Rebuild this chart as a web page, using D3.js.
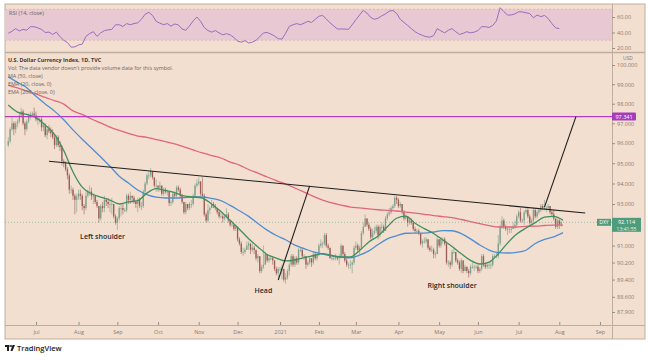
<!DOCTYPE html>
<html><head><meta charset="utf-8">
<script src="https://cdn.jsdelivr.net/npm/d3@7"></script>
<style>
body{margin:0;background:#fff}
svg{display:block}
text{font-family:"Open Sans","DejaVu Sans",sans-serif}
</style>
</head><body>
<svg id="c" width="648" height="360"></svg>
<script>
// ---------------- DATA ----------------
const firstBar = "2020-06-10";          // first daily bar (weekdays only)
const firstOpen = 95.9;
const closes = [
96.1,96.7,97.0,96.7,97.0,97.1,97.4,97.6,97.0,96.7,97.1,97.4,97.4,97.5,97.4,
97.2,97.2,97.2,96.8,96.9,96.4,96.7,96.6,96.5,96.3,95.9,96.3,95.9,95.8,95.1,95.0,94.7,94.4,93.7,93.7,93.4,93.2,93.35,
93.5,93.4,92.9,92.8,93.4,93.6,93.6,93.4,93.4,93.1,92.9,92.3,92.9,92.8,93.2,93.1,93.0,93.0,93.0,92.4,92.1,
92.3,92.8,92.8,92.7,92.7,93.4,93.2,93.4,93.3,93.1,93.0,93.2,92.9,92.9,93.6,94.0,94.4,94.4,94.6,94.3,93.9,93.9,
93.8,93.9,93.5,93.7,93.6,93.6,93.05,93.1,93.5,93.4,93.8,93.7,93.4,93.1,92.6,93.0,92.8,93.0,93.0,93.4,93.9,94.0,
94.1,93.5,93.4,92.5,92.2,92.7,92.8,93.0,92.9,92.8,92.6,92.4,92.4,92.3,92.4,92.5,92.2,92.0,92.0,91.8,91.9,
91.3,91.1,90.7,90.7,90.8,91.0,91.1,90.8,90.9,90.8,90.4,90.5,89.8,90.0,90.1,90.6,90.3,90.4,90.4,90.3,89.9,89.7,89.9,
89.9,89.9,89.4,89.5,89.8,90.1,90.5,90.1,90.4,90.2,90.8,90.8,90.5,90.5,90.1,90.2,90.4,90.2,90.6,90.4,90.6,
91.0,91.1,91.1,91.5,91.0,90.9,90.4,90.4,90.4,90.5,90.4,90.5,91.0,90.6,90.3,90.1,90.1,90.1,90.2,90.9,
91.0,90.8,90.9,91.6,91.9,92.3,92.0,91.8,91.4,91.6,91.7,91.9,91.5,91.9,91.9,91.7,92.3,92.5,92.6,92.8,92.9,93.3,93.2,
92.9,93.0,92.6,92.3,92.4,92.1,92.2,92.1,91.8,91.7,91.7,91.6,91.1,91.2,91.2,91.3,90.9,90.8,90.8,90.6,90.6,91.3,
91.0,91.3,91.3,91.1,90.2,90.2,90.1,90.7,90.7,90.3,90.2,89.9,90.3,89.8,90.0,89.8,89.7,90.0,90.0,90.0,90.0,
89.8,89.9,90.5,90.1,90.0,90.1,90.1,90.1,90.5,90.5,90.5,91.1,91.9,92.2,91.9,91.8,91.8,91.8,91.8,91.9,92.0,92.4,
92.6,92.2,92.2,92.6,92.7,92.4,92.1,92.2,92.7,92.4,92.6,92.7,92.9,92.8,92.8,92.8,92.9,92.6,92.5,92.3,91.9,92.2,
92.0,92.114];
const highs = [
96.3,96.8,97.3,97.1,97.1,97.2,97.5,97.8,97.7,97.1,97.2,97.5,97.6,97.6,97.8,
97.6,97.4,97.3,97.3,97.0,97.0,96.8,96.9,96.8,96.7,96.4,96.4,96.4,96.1,95.9,95.2,95.1,94.8,94.5,93.9,93.8,93.5,93.5,
93.7,93.7,93.5,93.0,93.6,93.7,93.9,93.8,93.5,93.4,93.2,92.9,93.0,93.1,93.4,93.3,93.3,93.2,93.3,93.0,92.5,
92.4,92.9,93.0,93.0,92.8,93.5,93.5,93.6,93.4,93.4,93.2,93.3,93.3,93.1,93.7,94.1,94.5,94.6,94.75,94.6,94.3,94.2,
93.9,94.1,93.9,93.8,93.8,93.7,93.6,93.2,93.6,93.6,93.9,93.9,93.8,93.5,93.1,93.1,93.0,93.1,93.2,93.5,94.0,94.2,
94.3,94.1,94.3,93.5,92.6,93.0,92.9,93.2,93.1,93.0,92.8,92.7,92.6,92.5,92.5,92.8,92.6,92.2,92.1,92.0,92.0,
91.9,91.4,91.2,90.9,90.9,91.2,91.2,91.1,91.1,91.0,90.8,90.6,90.5,90.1,91.0,90.7,90.6,90.5,90.5,90.5,90.3,90.0,90.0,
90.0,90.1,89.9,89.7,89.9,90.2,90.6,90.6,90.5,90.5,90.9,90.9,90.9,90.6,90.5,90.3,90.5,90.4,90.7,90.7,90.7,
91.1,91.3,91.2,91.6,91.6,91.1,90.9,90.6,90.5,90.6,90.5,90.6,91.1,91.0,90.7,90.4,90.2,90.3,90.3,91.0,
91.2,91.1,91.0,91.7,92.1,92.5,92.3,92.1,91.9,91.8,91.9,92.0,92.0,92.0,92.1,92.0,92.4,92.6,92.8,92.9,93.0,93.4,93.4,
93.3,93.1,93.0,92.7,92.5,92.4,92.3,92.3,92.2,91.9,91.8,91.8,91.6,91.3,91.4,91.4,91.3,91.0,91.0,90.9,90.7,91.4,
91.3,91.4,91.4,91.4,91.2,90.3,90.3,90.8,90.9,90.7,90.4,90.3,90.4,90.3,90.1,90.0,89.9,90.1,90.2,90.1,90.1,
90.1,90.0,90.6,90.6,90.2,90.2,90.2,90.3,90.6,90.6,90.7,91.5,92.0,92.4,92.3,92.0,91.9,91.9,91.9,92.1,92.2,92.5,
92.7,92.8,92.3,92.7,92.8,92.8,92.5,92.3,92.8,92.8,92.7,92.8,93.0,93.0,93.2,92.9,93.0,92.9,92.7,92.7,92.3,92.3,
92.3,92.2];
const lows = [
95.8,96.0,96.6,96.4,96.5,96.8,97.0,97.3,96.9,96.4,96.6,97.0,97.2,97.3,97.3,
97.1,96.9,97.0,96.6,96.6,96.3,96.2,96.5,96.3,96.2,95.7,95.8,95.8,95.6,94.9,94.8,94.6,94.2,93.5,93.5,93.2,92.5,92.6,
93.2,93.2,92.7,92.5,92.7,93.3,93.4,93.2,93.0,93.0,92.8,92.1,92.2,92.6,92.6,92.9,92.8,92.6,92.5,92.3,92.0,
91.75,92.2,92.4,92.5,92.6,92.6,93.0,93.0,93.1,93.0,92.8,92.6,92.8,92.7,92.8,93.5,93.9,94.2,94.3,94.2,93.8,93.6,
93.6,93.6,93.4,93.4,93.5,93.4,92.9,92.9,93.0,93.3,93.3,93.6,93.3,93.0,92.5,92.5,92.7,92.7,92.8,92.9,93.4,93.8,
93.9,93.4,93.3,92.4,92.1,92.1,92.5,92.8,92.8,92.7,92.5,92.3,92.3,92.1,92.2,92.3,92.1,91.9,91.9,91.7,91.7,
91.2,91.0,90.6,90.5,90.6,90.8,90.8,90.6,90.7,90.6,90.3,90.2,89.7,89.7,89.9,90.1,90.2,90.2,90.3,90.1,89.8,89.6,89.5,
89.8,89.4,89.3,89.2,89.4,89.6,90.0,90.0,90.0,90.1,90.1,90.7,90.4,90.3,89.9,90.0,90.1,90.0,90.1,90.3,90.3,
90.5,90.9,90.9,91.0,90.9,90.8,90.4,90.3,90.3,90.3,90.3,90.1,90.4,90.5,90.2,90.0,89.9,89.9,89.7,90.1,
90.8,90.7,90.6,90.8,91.5,91.9,91.9,91.7,91.3,91.3,91.5,91.6,91.3,91.4,91.6,91.6,91.7,92.2,92.4,92.5,92.7,92.8,93.0,
92.8,92.8,92.5,92.2,92.2,91.9,92.0,92.0,91.7,91.6,91.6,91.5,91.0,90.9,91.1,91.1,90.8,90.7,90.7,90.4,90.4,90.6,
90.9,90.9,91.1,91.0,90.1,90.0,89.9,90.0,90.6,90.2,90.1,89.8,89.7,89.7,89.8,89.7,89.5,89.6,89.9,89.8,89.9,
89.7,89.7,89.8,90.0,89.9,89.9,89.9,89.9,90.0,90.4,90.4,90.4,91.0,91.8,91.8,91.7,91.5,91.6,91.6,91.8,91.8,91.9,
92.3,92.1,92.1,92.0,92.5,92.3,92.0,92.0,92.1,92.3,92.3,92.5,92.6,92.7,92.7,92.6,92.7,92.5,92.4,92.2,91.8,91.8,
91.8,91.9];

// indicator lines, one value every `lineStep` bars
const lineStep = 5;
const ema20 = [97.93,97.57,97.45,97.29,96.91,96.44,95.63,94.57,93.82,93.50,93.33,93.19,93.0,93.10,93.16,93.53,93.75,93.66,93.55,93.39,93.34,93.29,92.99,92.64,92.21,91.78,91.33,90.94,90.58,90.41,90.28,90.32,90.43,90.52,90.62,90.53,90.46,90.46,90.77,91.17,91.46,91.9,92.31,92.41,92.07,91.81,91.58,91.27,90.96,90.61,90.30,90.13,90.22,90.61,91.12,91.55,91.84,92.1,92.36,92.40,92.22];
const ma50 = [99.38,99.1,98.82,98.38,97.99,97.62,97.18,96.67,96.2,95.76,95.31,94.85,94.36,94.02,93.68,93.46,93.33,93.29,93.29,93.31,93.34,93.34,93.27,93.16,92.93,92.67,92.40,92.06,91.74,91.48,91.28,91.02,90.86,90.70,90.60,90.52,90.46,90.42,90.55,90.75,91.05,91.32,91.47,91.59,91.60,91.60,91.65,91.72,91.71,91.57,91.32,91.03,90.79,90.67,90.65,90.68,90.78,91.10,91.30,91.42,91.62];
const ema200 = [98.96,98.81,98.65,98.50,98.32,98.16,97.98,97.63,97.45,97.22,97.02,96.81,96.64,96.49,96.36,96.29,96.18,96.08,95.96,95.81,95.66,95.51,95.38,95.26,95.06,94.91,94.69,94.51,94.32,94.14,93.97,93.78,93.58,93.37,93.19,93.05,92.95,92.85,92.81,92.76,92.72,92.69,92.66,92.61,92.56,92.50,92.44,92.39,92.34,92.25,92.15,92.05,91.96,91.89,91.89,91.89,91.92,91.93,91.96,91.98,91.98];

// RSI(14), one value every `rsiStep` bars
const rsiStep = 2;
const rsi = [39,41.5,45,42,44,43,47.5,47.5,46,44,40,40.5,37.5,40.5,34.6,30,27,21,21.5,24,25,35,38.7,41,35,39.5,42.5,43.5,44,50,
50,47.8,51.5,50,51.5,52.5,57,63.5,66,62,54.5,52,50,51.5,48.2,51,49.8,44.5,42.9,48.5,55,60,54.5,46.5,42.5,40.5,42.5,39.5,37,38.5,
37,33.5,29,27.5,29.5,26.5,27.5,30,34.5,39.5,40,38,35.5,32,31.5,39,48,50,51.5,50,52,54.5,53,57,61,62,57.5,52.5,48.5,44.5,
44.5,44.5,44,50,56.5,62.7,68.5,65,59.5,57,58.5,61.5,64,67.5,68.5,64.7,57,53,49,45,41,38.3,36.3,34.5,34,36,45,42,39.5,43,
45,41,37.5,39,41,39.5,40.5,42.5,47.5,47.5,46.5,49,55,72,67,62.6,62.6,64,66.8,66.5,65.5,64.5,59,62.5,60.5,62,58,51.5,46,45];

const monthStarts = ["2020-07-01","2020-08-03","2020-09-01","2020-10-01","2020-11-02","2020-12-01","2021-01-01","2021-02-01","2021-03-01","2021-04-01","2021-05-03","2021-06-01","2021-07-01","2021-08-02","2021-09-01"];
const monthLabels = ["Jul","Aug","Sep","Oct","Nov","Dec","2021","Feb","Mar","Apr","May","Jun","Jul","Aug","Sep"];
const priceTicks = [100,99,98,97,96,95,94,93,91,90.2,89.4,88.6,87.9];
const rsiTicks = [60,40,20];
const targetLevel = 97.341;
const lastPrice = 92.114;
const countdown = "13:41:55";
const neckline = [["2020-07-10",95.1],["2021-08-20",92.56]];
const headLine = [["2020-12-31",89.38],["2021-01-25",93.88]];
const targetLine = [["2021-07-21",92.85],["2021-08-13",97.341]];
const patternLabels = [["Left shoulder","2020-08-20",91.41],["Head","2020-12-21",88.87],["Right shoulder","2021-05-12",89.10]];
const legendLines = ["Vol: The data vendor doesn't provide volume data for this symbol.","MA (50, close)","EMA (20, close, 0)","EMA (200, close, 0)"];

// ---------------- DRAW ----------------
const svg = d3.select("#c");
const L = 5, R = 612, FR = 645, TOP = 4, RB = 52, MT = 53, MB = 325, BB = 339;
const bg = "#f3dfcf", frame = "#bfae9f", axisTxt = "#847a73";

const startD = d3.timeParse("%Y-%m-%d")(firstBar);
const days = d3.timeDay.range(startD, new Date(2021, 9, 1)).filter(d => d.getDay() % 6 !== 0);
const fmt = d3.timeFormat("%Y-%m-%d");
const idx = new Map(days.map((d, i) => [fmt(d), i]));
const bi = s => idx.get(s);

const x = d3.scaleLinear().domain([-1.77, 326.5]).range([L, R]);
const y = d3.scaleLog().domain([100, 87.9]).range([65, 312]);
const yr = d3.scaleLinear().domain([20, 60]).range([48, 17]);

svg.append("rect").attr("x", L).attr("y", TOP).attr("width", FR - L).attr("height", BB - TOP).attr("fill", bg).attr("stroke", frame).attr("stroke-width", 1);

const defs = svg.append("defs");
defs.append("clipPath").attr("id", "cm").append("rect").attr("x", L).attr("y", MT).attr("width", R - L).attr("height", MB - MT);
defs.append("clipPath").attr("id", "cr").append("rect").attr("x", L).attr("y", TOP).attr("width", R - L).attr("height", RB - TOP);

// RSI panel
const rp = svg.append("g").attr("clip-path", "url(#cr)");
rp.append("rect").attr("x", L).attr("y", yr(70)).attr("width", R - L).attr("height", yr(30) - yr(70)).attr("fill", "#e8c8d3");
[70, 30].forEach(v => rp.append("line").attr("x1", L).attr("x2", R).attr("y1", yr(v)).attr("y2", yr(v)).attr("stroke", "#c9a9b4").attr("stroke-dasharray", "2,2").attr("stroke-width", 0.6));
rp.append("path").datum(rsi).attr("fill", "none").attr("stroke", "#9a6cbf").attr("stroke-width", 1)
  .attr("d", d3.line().x((d, k) => x(k * rsiStep)).y(d => yr(d)));
svg.append("text").attr("x", 9).attr("y", 15).attr("font-size", 5.5).attr("fill", "#6f6560").text("RSI (14, close)");

// separators
svg.append("line").attr("x1", L).attr("x2", FR).attr("y1", RB + 0.5).attr("y2", RB + 0.5).attr("stroke", frame).attr("stroke-width", 1.5);
svg.append("line").attr("x1", L).attr("x2", FR).attr("y1", MB + 0.5).attr("y2", MB + 0.5).attr("stroke", frame).attr("stroke-width", 1);
svg.append("line").attr("x1", R + 0.5).attr("x2", R + 0.5).attr("y1", TOP).attr("y2", BB).attr("stroke", frame).attr("stroke-width", 1);

// main panel
const mp = svg.append("g").attr("clip-path", "url(#cm)");
mp.append("line").attr("x1", L).attr("x2", R).attr("y1", y(lastPrice)).attr("y2", y(lastPrice)).attr("stroke", "#7fae97").attr("stroke-dasharray", "1,2").attr("stroke-width", 0.7);

const bars = closes.map((c, i) => {
  const o = i ? closes[i - 1] : firstOpen;
  return { i, o, c, h: Math.max(highs[i], o, c), l: Math.min(lows[i], o, c) };
});
const up = "#7e9f8b", dn = "#9a5d55";
const cg = mp.append("g");
cg.selectAll("line").data(bars).join("line")
  .attr("x1", d => x(d.i)).attr("x2", d => x(d.i)).attr("y1", d => y(d.h)).attr("y2", d => y(d.l))
  .attr("stroke", d => d.c >= d.o ? up : dn).attr("stroke-width", 0.6);
cg.selectAll("rect").data(bars).join("rect")
  .attr("x", d => x(d.i) - 0.65).attr("width", 1.3)
  .attr("y", d => y(Math.max(d.o, d.c))).attr("height", d => Math.max(0.8, y(Math.min(d.o, d.c)) - y(Math.max(d.o, d.c))))
  .attr("fill", d => d.c >= d.o ? up : dn);

const maLine = d3.line().x((d, k) => x(k * lineStep)).y(d => y(d)).curve(d3.curveMonotoneX);
mp.append("path").datum(ema200).attr("fill", "none").attr("stroke", "#e0657f").attr("stroke-width", 1.3).attr("d", maLine);
mp.append("path").datum(ma50).attr("fill", "none").attr("stroke", "#4f8fd0").attr("stroke-width", 1.3).attr("d", maLine);
mp.append("path").datum(ema20).attr("fill", "none").attr("stroke", "#3f8f5c").attr("stroke-width", 1.3).attr("d", maLine);

mp.append("line").attr("x1", L).attr("x2", R).attr("y1", y(targetLevel)).attr("y2", y(targetLevel)).attr("stroke", "#b23cbf").attr("stroke-width", 1.2);

const seg = d3.line().x(d => x(bi(d[0]))).y(d => y(d[1]));
[neckline, headLine, targetLine].forEach(s => mp.append("path").datum(s).attr("fill", "none").attr("stroke", "#1e1e1e").attr("stroke-width", 1.1).attr("d", seg));

patternLabels.forEach(([t, d, p]) => mp.append("text").attr("x", x(bi(d))).attr("y", y(p)).attr("dy", "0.35em")
  .attr("text-anchor", "middle").attr("font-size", 7).attr("font-weight", 600).attr("fill", "#2b2b2b").text(t));

// legend
svg.append("text").attr("x", 8).attr("y", 62).attr("font-size", 5.4).attr("font-weight", 700).attr("fill", "#3d3835").text("U.S. Dollar Currency Index, 1D, TVC");
legendLines.forEach((t, k) => svg.append("text").attr("x", 8).attr("y", 70 + k * 8).attr("font-size", 5.4).attr("fill", "#6d6560").text(t));

// price axis
const pa = svg.append("g").attr("transform", `translate(${R},0)`)
  .call(d3.axisRight(y).tickValues(priceTicks).tickFormat(d3.format(".3f")).tickSize(3).tickPadding(2));
pa.select(".domain").remove();
pa.selectAll("text").attr("font-size", 5.5).attr("fill", axisTxt).attr("font-family", "Open Sans");
pa.selectAll("line").attr("stroke", "#9b8f86");
svg.append("text").attr("x", 628).attr("y", 60).attr("text-anchor", "middle").attr("font-size", 5).attr("fill", axisTxt).text("USD");

const ra = svg.append("g").attr("transform", `translate(${R},0)`)
  .call(d3.axisRight(yr).tickValues(rsiTicks).tickFormat(d3.format(".2f")).tickSize(3).tickPadding(2));
ra.select(".domain").remove();
ra.selectAll("text").attr("font-size", 5.5).attr("fill", axisTxt).attr("font-family", "Open Sans");
ra.selectAll("line").attr("stroke", "#9b8f86");

// date axis
const da = svg.append("g").attr("transform", `translate(0,${MB})`)
  .call(d3.axisBottom(x).tickValues(monthStarts.map(bi)).tickFormat((d, k) => monthLabels[k]).tickSizeInner(-3).tickSizeOuter(0).tickPadding(5));
da.select(".domain").remove();
da.selectAll("text").attr("font-size", 5.5).attr("fill", axisTxt).attr("font-family", "Open Sans");
da.selectAll("line").attr("stroke", "#9b8f86");

// price labels
const yt = y(targetLevel);
svg.append("rect").attr("x", R).attr("y", yt - 4).attr("width", 24).attr("height", 8).attr("fill", "#a53cbc").attr("rx", 1);
svg.append("text").attr("x", R + 12).attr("y", yt).attr("dy", "0.35em").attr("text-anchor", "middle").attr("font-size", 5.5).attr("fill", "#fff").text(d3.format(".3f")(targetLevel));

const yl = y(lastPrice);
const green = "#4e9c7b";
svg.append("rect").attr("x", 597).attr("y", yl - 3.5).attr("width", 14).attr("height", 7).attr("fill", green);
svg.append("text").attr("x", 604).attr("y", yl).attr("dy", "0.35em").attr("text-anchor", "middle").attr("font-size", 5).attr("fill", "#fff").text("DXY");
svg.append("rect").attr("x", R).attr("y", yl - 4.5).attr("width", 29).attr("height", 14).attr("fill", green);
svg.append("text").attr("x", R + 14.5).attr("y", yl).attr("dy", "0.35em").attr("text-anchor", "middle").attr("font-size", 5.5).attr("fill", "#fff").text(d3.format(".3f")(lastPrice));
svg.append("text").attr("x", R + 14.5).attr("y", yl + 6.5).attr("dy", "0.35em").attr("text-anchor", "middle").attr("font-size", 5).attr("fill", "#e6f3ec").text(countdown);

// TradingView mark
const lg = svg.append("g").attr("fill", "#1d1d1d");
lg.append("rect").attr("x", 5).attr("y", 345).attr("width", 4.5).attr("height", 2);
lg.append("rect").attr("x", 7).attr("y", 345).attr("width", 2).attr("height", 6);
lg.append("circle").attr("cx", 11).attr("cy", 346).attr("r", 1);
lg.append("path").attr("d", "M12.5,345 L15,345 L12.5,351 L10.5,351 Z");
svg.append("text").attr("x", 17).attr("y", 351).attr("font-size", 7.5).attr("font-weight", 600).attr("fill", "#1d1d1d").text("TradingView");
</script>
</body></html>
